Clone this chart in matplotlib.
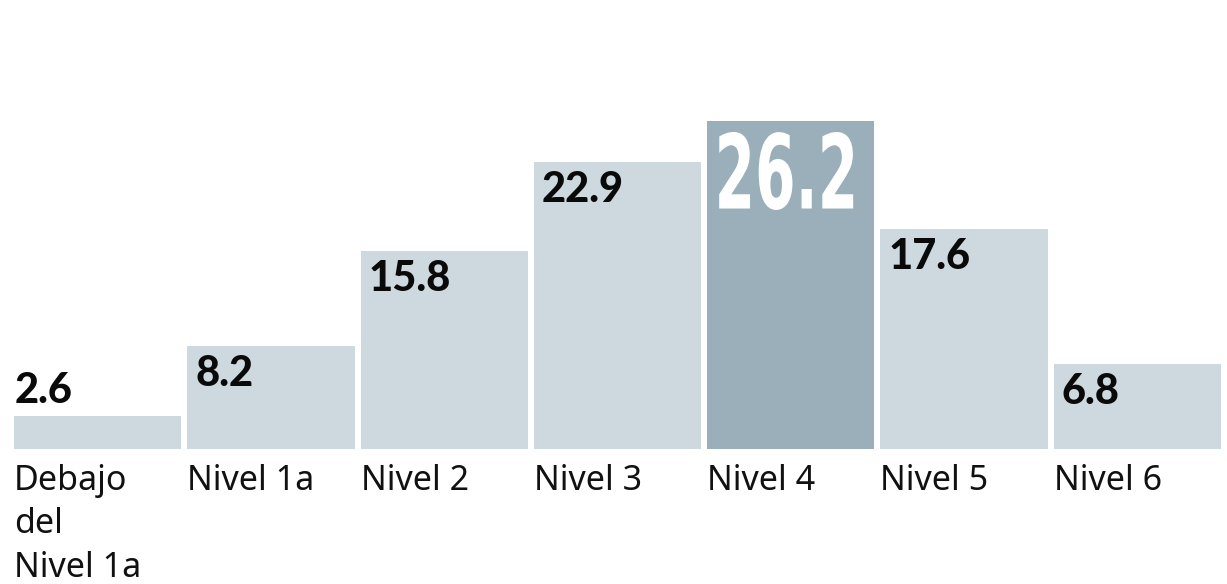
import matplotlib
matplotlib.use("Agg")
import matplotlib.pyplot as plt
from matplotlib.textpath import TextPath
from matplotlib.patches import PathPatch
from matplotlib.font_manager import FontProperties
import matplotlib.transforms as mtransforms

categories = ["Debajo\ndel\nNivel 1a", "Nivel 1a", "Nivel 2", "Nivel 3", "Nivel 4", "Nivel 5", "Nivel 6"]
values = [2.6, 8.2, 15.8, 22.9, 26.2, 17.6, 6.8]
highlight = 4  # Nivel 4

light = "#cdd8df"
dark = "#9aafba"

fig = plt.figure(figsize=(12.27, 5.84), dpi=100)
# axes spans the bar area; baseline sits at 449 px from the top
ax = fig.add_axes([11 / 1227, 135 / 584, 1213 / 1227, 449 / 584])
ax.set_xlim(-0.5, len(values) - 0.5)
ax.set_ylim(0, 449 / 12.52)
ax.axis("off")

w = 0.965
colors = [dark if i == highlight else light for i in range(len(values))]
ax.bar(range(len(values)), values, width=w, color=colors)

for i, (cat, v) in enumerate(zip(categories, values)):
    left = i - w / 2
    # category label under the bar
    ax.annotate(cat, (left, 0), xytext=(0, -15), textcoords="offset pixels",
                ha="left", va="top", fontsize=24.5, family="Noto Sans",
                color="#111111", linespacing=1.36, annotation_clip=False)
    if i == highlight:
        continue
    if i == 0:
        # too short: label sits above the bar
        ax.annotate(f"{v:.1f}", (left, v), xytext=(1, 13), textcoords="offset pixels",
                    ha="left", va="baseline", fontsize=30, family="Lato",
                    weight="black", color="#0a0a0a", annotation_clip=False)
    else:
        ax.annotate(f"{v:.1f}", (left, v), xytext=(8, -40), textcoords="offset pixels",
                    ha="left", va="baseline", fontsize=30, family="Lato",
                    weight="black", color="#0a0a0a", annotation_clip=False)

# big condensed white label on the highlighted bar
tp = TextPath((0, 0), f"{values[highlight]:.1f}", size=1,
              prop=FontProperties(family="DejaVu Sans", weight="bold"))
ext = tp.get_extents()
target_w, target_h = 134, 78
sx = target_w / ext.width
sy = target_h / ext.height
offset = (mtransforms.Affine2D()
          .translate(-ext.x0, -ext.y1)
          .scale(sx, sy)
          .translate(12, -11)
          + mtransforms.ScaledTranslation(highlight - w / 2, values[highlight], ax.transData))
ax.add_patch(PathPatch(tp, transform=offset, facecolor="white", edgecolor="none", clip_on=False))

fig.savefig("out.png", dpi=100)
